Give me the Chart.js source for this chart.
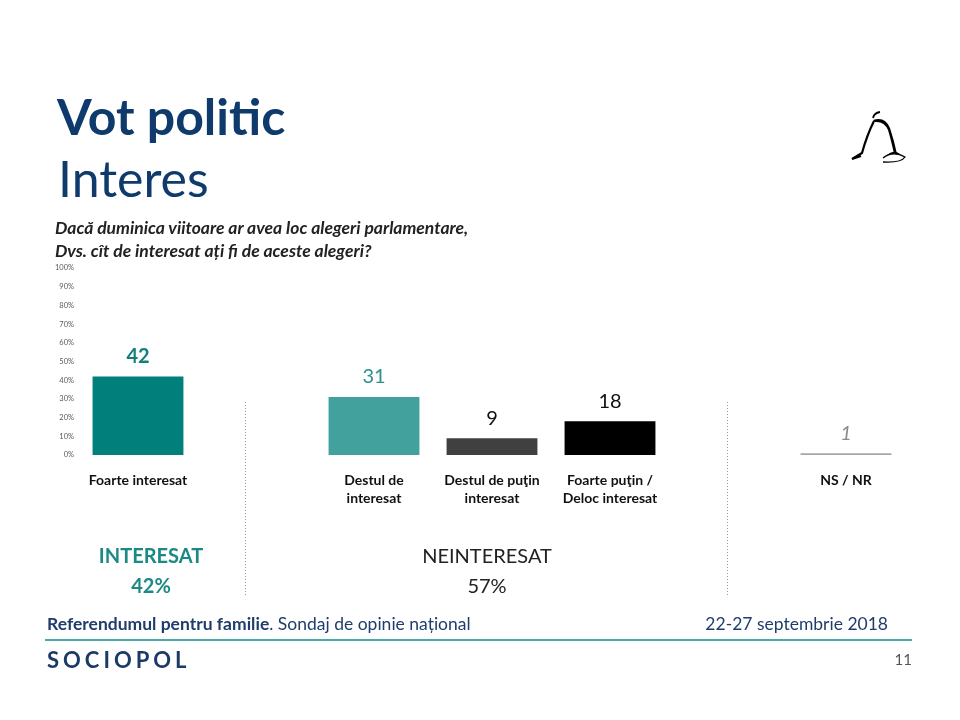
<!DOCTYPE html>
<html>
<head>
<meta charset="utf-8">
<script src="https://cdn.jsdelivr.net/npm/chart.js@4/dist/chart.umd.min.js"></script>
<style>
	body { margin: 0; background: #fff; font-family: Lato, "Open Sans", sans-serif; }
	#page { position: relative; width: 960px; height: 720px; overflow: hidden; }
	#page canvas { position: absolute; left: 0; top: 0; }
	.t { position: absolute; white-space: nowrap; }
</style>
</head>
<body>
<div id="page">
	<canvas id="chart" width="960" height="720"></canvas>
	<div class="t" style="left:57px;top:86px;font-size:50px;font-weight:bold;color:#0e3a6c;">Vot politic</div>
	<div class="t" style="left:58px;top:148px;font-size:50px;color:#0e3a6c;">Interes</div>
	<div class="t" style="left:55px;top:216px;font-size:17.5px;font-weight:bold;font-style:italic;color:#222;line-height:23px;">Dacă duminica viitoare ar avea loc alegeri parlamentare,<br>Dvs. cît de interesat ați fi de aceste alegeri?</div>
	<div class="t" style="left:96px;top:540px;width:110px;text-align:center;font-size:20px;color:#1b8984;line-height:30px;font-weight:bold;">INTERESAT<br>42%</div>
	<div class="t" style="left:407px;top:540px;width:160px;text-align:center;font-size:20px;color:#222;line-height:30px;">NEINTERESAT<br>57%</div>
	<div class="t" style="left:47px;top:613px;font-size:17.5px;color:#1f3d6b;"><b>Referendumul pentru familie</b>. Sondaj de opinie național</div>
	<div class="t" style="left:680px;top:613px;width:208px;text-align:right;font-size:17.5px;color:#1f3d6b;">22-27 septembrie 2018</div>
	<div style="position:absolute;left:45px;top:639px;width:867px;height:2px;background:#4aa9a9;"></div>
	<div class="t" style="left:47px;top:646px;font-size:22px;font-weight:bold;letter-spacing:4px;color:#1b3a66;">SOCIOPOL</div>
	<div class="t" style="left:880px;top:650px;width:32px;text-align:right;font-size:15px;color:#555;">11</div>
	<svg style="position:absolute;left:845px;top:105px;" width="70" height="65" viewBox="0 0 70 65">
		<path d="M28 13 q1 -5 7 -6" stroke="#000" stroke-width="1.8" fill="none"/>
		<path d="M28 15 q12 -4 17 8 q4 12 7 26 l-3 0 q-3 -14 -6 -24 q-4 -9 -13 -8 z" fill="#000"/>
		<path d="M29 16 q-7 14 -12 32 l-10 6 l9 -3" stroke="#000" stroke-width="2.2" fill="none"/>
		<path d="M38 53 q10 -8 22 -1 q-4 6 -22 5 M44 49 q6 -3 10 0" stroke="#000" stroke-width="1.3" fill="none"/>
	</svg>
</div>
<script>
const categories = [['Foarte interesat'], '', ['Destul de', 'interesat'], ['Destul de puţin', 'interesat'], ['Foarte puţin /', 'Deloc interesat'], '', ['NS / NR']];
const values = [42, null, 31, 9, 18, null, 1];
const barColors = ['#007f7b', null, '#42a09d', '#404040', '#000000', null, '#a6a6a6'];
const labelColors = ['#137f7b', null, '#2a918d', '#111111', '#111111', null, '#8c8c8c'];
const labelFonts = ['bold 20px Lato', null, '20px Lato', '20px Lato', '20px Lato', null, 'italic 20px Lato'];
const yTicks = [0, 10, 20, 30, 40, 50, 60, 70, 80, 90, 100];

const valueLabels = {
	id: 'valueLabels',
	afterDatasetsDraw(chart) {
		let ctx = chart.ctx;
		let meta = chart.getDatasetMeta(0);
		ctx.save();
		ctx.textAlign = 'center';
		ctx.textBaseline = 'bottom';
		meta.data.forEach(function(bar, i) {
			if (values[i] === null) return;
			ctx.font = labelFonts[i];
			ctx.fillStyle = labelColors[i];
			ctx.fillText(values[i], bar.x, bar.y - 10);
		});
		// dotted separators between groups
		let xs = chart.scales.x;
		ctx.strokeStyle = '#9a9a9a';
		ctx.lineWidth = 1;
		ctx.setLineDash([1, 2]);
		[[1, -11], [5, -1]].forEach(function(s) {
			let x = Math.round(xs.getPixelForValue(s[0])) + s[1] + 0.5;
			ctx.beginPath();
			ctx.moveTo(x, 402);
			ctx.lineTo(x, 596);
			ctx.stroke();
		});
		ctx.restore();
	}
};

let ctx = document.getElementById('chart').getContext('2d');
var InterestChart = new Chart(ctx, {
	type: 'bar',
	data: {
		labels: categories,
		datasets: [{
			data: values,
			backgroundColor: barColors,
			categoryPercentage: 1,
			barPercentage: 0.77
		}]
	},
	options: {
		responsive: false,
		animation: false,
		layout: { padding: { top: 268, right: 55, left: 0, bottom: 0 } },
		plugins: { legend: { display: false }, tooltip: { enabled: false } },
		scales: {
			y: {
				min: 0,
				max: 100,
				afterFit: function(scale) { scale.width = 79; },
				afterBuildTicks: function(scale) { scale.ticks = yTicks.map(v => ({ value: v })); },
				grid: { display: false, drawTicks: false },
				border: { display: false },
				ticks: {
					padding: 5,
					color: '#595959',
					font: { size: 7.5, family: 'Lato' },
					callback: v => v + '%'
				}
			},
			x: {
				afterFit: function(scale) { scale.height = 265; },
				grid: { display: false, drawTicks: false },
				border: { display: false },
				ticks: {
					padding: 16,
					color: '#111',
					maxRotation: 0,
					autoSkip: false,
					font: { size: 14, weight: 'bold', family: 'Lato', lineHeight: 1.3 }
				}
			}
		}
	},
	plugins: [valueLabels]
});
</script>
</body>
</html>
